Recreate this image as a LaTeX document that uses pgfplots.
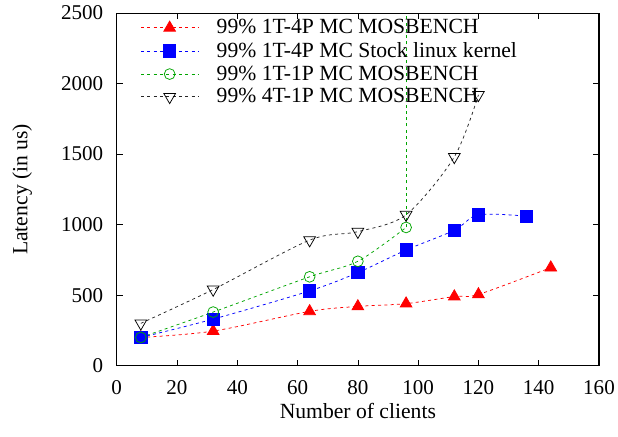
\documentclass[border=0pt]{standalone}
\usepackage{fontspec}
\setmainfont{Liberation Serif}
\usepackage{pgfplots}
\pgfplotsset{compat=1.18}
\definecolor{gpgreen}{RGB}{0,165,0}
\begin{document}
\begin{tikzpicture}
\begin{axis}[
  scale only axis,
  width=321pt, height=234.7pt,
  xmin=0, xmax=160, ymin=0, ymax=2500,
  xtick={0,20,...,160}, ytick={0,500,...,2500},
  tick align=inside, tick pos=both,
  major tick length=4pt,
  every tick/.style={black, thin},
  axis line style={black, line width=0.7pt},
  /pgf/number format/assume math mode=true,
  /pgf/number format/1000 sep={},
  tick label style={font=\fontsize{14}{16}\selectfont},
  yticklabel shift=5.5pt,
  xticklabel shift=6.5pt,
  label style={font=\fontsize{14.4}{16}\selectfont},
  xlabel={Number of clients}, ylabel={Latency (in us)},
  xlabel style={yshift=1.5pt},
  ylabel style={yshift=12.5pt},
  legend style={at={(0.049,0.991)}, anchor=north west, draw=none, fill=none,
    font=\fontsize{14.4}{16}\selectfont, row sep=0.1pt, inner sep=0pt},
  legend cell align=left,
  legend image code/.code={\draw[mark repeat=2,mark phase=2,#1] plot coordinates {(0cm,0cm) (0.67cm,0cm) (1.34cm,0cm)};
    \path (1.34cm+10pt,0pt);},
  every axis plot/.append style={dash pattern=on 2pt off 2.2pt, line width=0.5pt, smooth},
]
\addplot[red, mark=triangle*, mark size=4.5pt, mark options={solid, fill=red}] coordinates {
(8,200) (32,245) (64,385) (80,420) (96,440) (112,490) (120,505) (144,695)};
\addlegendentry{99\% 1T-4P MC MOSBENCH}
\addplot[blue, mark=square*, mark size=4.1pt, mark options={solid, fill=blue}] coordinates {
(8,200) (32,330) (64,530) (80,660) (96,820) (112,960) (120,1070) (136,1060)};
\addlegendentry{99\% 1T-4P MC Stock linux kernel}
\addplot[gpgreen, mark=o, mark size=3.6pt, mark options={solid}] coordinates {
(8,200) (32,380) (64,630) (80,740) (96,980)};
\addlegendentry{99\% 1T-1P MC MOSBENCH}
\addplot[black!85, mark=triangle, mark size=4.5pt, mark options={solid, black, rotate=180}] coordinates {
(8,300) (32,540) (64,890) (80,950) (96,1070) (112,1480) (120,1920)};
\addlegendentry{99\% 4T-1P MC MOSBENCH}
\addplot[draw=gpgreen, forget plot, no marks, sharp plot, line width=0.6pt] coordinates {(96,980) (96,2600)};
\coordinate (bbsw) at (rel axis cs:-0.242,-0.2013);
\coordinate (bbne) at (rel axis cs:1.0394,1.037);
\end{axis}
\pgfresetboundingbox
\useasboundingbox (bbsw) rectangle (bbne);
\end{tikzpicture}
\end{document}
